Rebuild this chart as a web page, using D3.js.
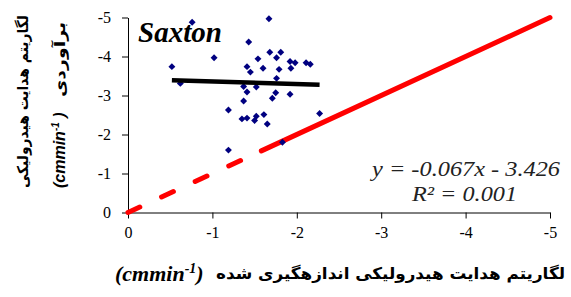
<!DOCTYPE html>
<html>
<head>
<meta charset="utf-8">
<script src="https://cdn.jsdelivr.net/npm/d3@7"></script>
<style>
  body { margin: 0; background: #fff; }
  svg { display: block; }
  .tick text { font-family: "Liberation Serif", serif; font-size: 16px; fill: #000; }
  .domain, .tick line { stroke: #000; stroke-width: 1; }
</style>
</head>
<body>
<svg id="chart" width="571" height="297"></svg>
<script>
// measured (x) vs estimated (y) log hydraulic conductivity, Saxton
var measured = [-0.76, -0.52, -0.62, -1.02, -1.67, -1.43, -1.68, -1.81, -1.54, -1.76,
  -1.92, -1.98, -2.11, -2.16, -1.41, -1.45, -1.60, -1.79, -1.93, -1.76,
  -1.37, -1.52, -1.41, -1.75, -1.71, -1.92, -1.37, -1.19, -1.35, -1.41,
  -1.52, -1.50, -1.61, -1.65, -1.83, -1.19, -2.27];
var estimated = [-4.88, -3.74, -3.31, -3.97, -4.97, -4.37, -4.11, -4.11, -3.94, -3.97,
  -3.87, -3.84, -3.84, -3.80, -3.74, -3.60, -3.70, -3.67, -3.70, -3.44,
  -3.23, -3.22, -3.09, -3.07, -2.93, -3.03, -2.86, -2.63, -2.40, -2.42,
  -2.47, -2.36, -2.51, -2.27, -1.80, -1.60, -2.54];
var tickValues = [0, -1, -2, -3, -4, -5];
var trendSlope = -0.067;
var trendIntercept = -3.426;
var oneToOne = [0, -5];
var dashedUntil = -1.58;

var svg = d3.select('#chart');

var xScale = d3.scaleLinear()
    .domain([0, -5])
    .range([128, 550]);

var yScale = d3.scaleLinear()
    .domain([0, -5])
    .range([212.5, 17.5]);

svg.append('g')
    .attr('transform', 'translate(0,' + yScale(0) + ')')
    .call(d3.axisBottom(xScale)
      .tickValues(tickValues)
      .tickSize(6)
      .tickSizeOuter(0)
      .tickPadding(8)
      .tickFormat(function(d) { return String(d); }));

svg.append('g')
    .attr('transform', 'translate(' + xScale(0) + ',0)')
    .call(d3.axisLeft(yScale)
      .tickValues(tickValues)
      .tickSize(6)
      .tickSizeOuter(0)
      .tickPadding(11)
      .tickFormat(function(d) { return String(d); }));

// 1:1 line, dashed near the origin then solid
var line = d3.line()
    .x(function(d) { return xScale(d); })
    .y(function(d) { return yScale(d); });

svg.append('path')
    .datum([oneToOne[0], dashedUntil])
    .attr('d', line)
    .attr('fill', 'none')
    .attr('stroke', '#ff0000')
    .attr('stroke-width', 5)
    .attr('stroke-linecap', 'round')
    .attr('stroke-dasharray', '13,24');

svg.append('path')
    .datum([dashedUntil, oneToOne[1]])
    .attr('d', line)
    .attr('fill', 'none')
    .attr('stroke', '#ff0000')
    .attr('stroke-width', 5)
    .attr('stroke-linecap', 'round');

// points
var data = measured.map(function(m, i) { return { x: m, y: estimated[i] }; });

svg.append('g')
  .selectAll('path')
  .data(data)
  .enter().append('path')
    .attr('d', d3.symbol(d3.symbolSquare).size(24))
    .attr('transform', function(d) {
      return 'translate(' + xScale(d.x) + ',' + yScale(d.y) + ') rotate(45)';
    })
    .attr('fill', '#000080');

// linear trendline over the measured range
var xExt = d3.extent(measured);
svg.append('path')
    .datum(xExt)
    .attr('d', d3.line()
      .x(function(d) { return xScale(d); })
      .y(function(d) { return yScale(trendSlope * d + trendIntercept); }))
    .attr('fill', 'none')
    .attr('stroke', '#000')
    .attr('stroke-width', 4.5);

svg.append('text')
    .attr('x', 138)
    .attr('y', 41.5)
    .style('font-family', '"Liberation Serif", serif')
    .style('font-weight', 'bold')
    .style('font-style', 'italic')
    .style('font-size', '29px')
    .text('Saxton');

var eq = svg.append('text')
    .style('font-family', '"Liberation Serif", serif')
    .style('font-style', 'italic')
    .style('font-size', '22px')
    .style('fill', '#222');
eq.append('tspan').attr('x', 372).attr('y', 176)
    .attr('textLength', 188).attr('lengthAdjust', 'spacingAndGlyphs')
    .text('y = -0.067x - 3.426');
eq.append('tspan').attr('x', 412).attr('y', 201)
    .attr('textLength', 105).attr('lengthAdjust', 'spacingAndGlyphs')
    .text('R² = 0.001');

// x axis title
svg.append('text')
    .attr('x', 216)
    .attr('y', 279)
    .attr('textLength', 349)
    .attr('lengthAdjust', 'spacingAndGlyphs')
    .style('font-family', '"DejaVu Sans", sans-serif')
    .style('font-weight', 'bold')
    .style('font-size', '16px')
    .text('لگاریتم هدایت هیدرولیکی اندازهگیری شده');

var unitX = svg.append('text')
    .attr('x', 115)
    .attr('y', 281)
    .style('font-family', '"Liberation Serif", serif')
    .style('font-weight', 'bold')
    .style('font-style', 'italic')
    .style('font-size', '22px');
unitX.append('tspan').text('(cmmin');
unitX.append('tspan').attr('dy', -8).style('font-size', '14px').text('-1');
unitX.append('tspan').attr('dy', 8).text(')');

// y axis title (two rotated lines)
svg.append('text')
    .attr('transform', 'translate(28,188) rotate(-90)')
    .attr('textLength', 173)
    .attr('lengthAdjust', 'spacingAndGlyphs')
    .style('font-family', '"DejaVu Sans", sans-serif')
    .style('font-weight', 'bold')
    .style('font-size', '15px')
    .text('لگاریتم هدایت هیدرولیکی');

svg.append('text')
    .attr('transform', 'translate(65,97) rotate(-90)')
    .attr('textLength', 75)
    .attr('lengthAdjust', 'spacingAndGlyphs')
    .style('font-family', '"DejaVu Sans", sans-serif')
    .style('font-weight', 'bold')
    .style('font-size', '15px')
    .text('برآوردی');

var unitY = svg.append('text')
    .attr('transform', 'translate(65,188) rotate(-90)')
    .style('font-family', '"Liberation Sans", sans-serif')
    .style('font-weight', 'bold')
    .style('font-style', 'italic')
    .style('font-size', '16px');
unitY.append('tspan').text('(cmmin');
unitY.append('tspan').attr('dy', -6).style('font-size', '10px').text('-1');
unitY.append('tspan').attr('dy', 6).text(' )');
</script>
</body>
</html>
